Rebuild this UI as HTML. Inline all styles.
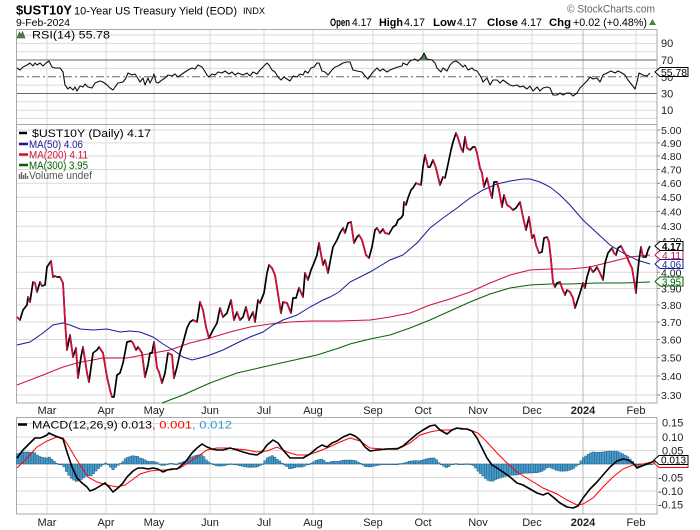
<!DOCTYPE html>
<html><head><meta charset="utf-8">
<style>
html,body{margin:0;padding:0;background:#fff;}
svg{display:block;}
text{font-family:"Liberation Sans",Arial,sans-serif;}
</style></head><body>
<svg id="c" width="700" height="530" viewBox="0 0 700 530" xmlns="http://www.w3.org/2000/svg">
<rect width="700" height="530" fill="#fff"/>

<!-- HEADER -->
<text x="16" y="14.5" font-size="13" font-weight="bold" textLength="56" lengthAdjust="spacingAndGlyphs">$UST10Y</text>
<text x="74" y="14.5" font-size="11" textLength="163" lengthAdjust="spacingAndGlyphs">10-Year US Treasury Yield (EOD)</text>
<text x="243" y="14" font-size="9" textLength="22" lengthAdjust="spacingAndGlyphs">INDX</text>
<text x="16" y="26" font-size="10.5" textLength="54" lengthAdjust="spacingAndGlyphs">9-Feb-2024</text>
<text x="567" y="12.5" font-size="11" fill="#666" textLength="88" lengthAdjust="spacingAndGlyphs">© StockCharts.com</text>
<g font-size="11">
<text x="330" y="26" font-weight="bold" textLength="20" lengthAdjust="spacingAndGlyphs">Open</text>
<text x="352" y="26" textLength="20" lengthAdjust="spacingAndGlyphs">4.17</text>
<text x="379" y="26" font-weight="bold" textLength="24" lengthAdjust="spacingAndGlyphs">High</text>
<text x="404" y="26" textLength="21" lengthAdjust="spacingAndGlyphs">4.17</text>
<text x="433" y="26" font-weight="bold" textLength="23" lengthAdjust="spacingAndGlyphs">Low</text>
<text x="457" y="26" textLength="20" lengthAdjust="spacingAndGlyphs">4.17</text>
<text x="487" y="26" font-weight="bold" textLength="31" lengthAdjust="spacingAndGlyphs">Close</text>
<text x="521" y="26" textLength="21" lengthAdjust="spacingAndGlyphs">4.17</text>
<text x="549" y="26" font-weight="bold" textLength="22" lengthAdjust="spacingAndGlyphs">Chg</text>
<text x="573" y="26" textLength="74" lengthAdjust="spacingAndGlyphs">+0.02 (+0.48%)</text>
</g>
<polygon points="649,25 656,25 652.5,19" fill="#3a8a3a"/>

<!-- GRIDS -->
<g stroke="#dadada" stroke-width="1" fill="none">
<!-- RSI horizontal -->
<path d="M16,35H657M16,43.4H657M16,51.7H657M16,68.4H657M16,85.1H657M16,101.8H657M16,110.2H657M16,118.5H657"/>
<!-- Main horizontal -->
<path d="M16,130H657M16,142.9H657M16,156H657M16,169.5H657M16,183.2H657M16,197.2H657M16,211.5H657M16,226.2H657M16,241.2H657M16,256.6H657M16,272.3H657M16,288.5H657M16,305H657M16,322H657M16,339.5H657M16,357.5H657M16,376H657M16,395H657"/>
<!-- MACD horizontal -->
<path d="M16,423.5H657M16,437H657M16,450.5H657M16,464H657M16,477.5H657M16,491H657M16,504.5H657"/>
<!-- vertical -->
<path d="M47,29V403M106,29V403M154,29V403M210,29V403M264,29V403M313,29V403M373,29V403M423,29V403M478,29V403M532,29V403M636,29V403"/>
<path d="M47,417V514M106,417V514M154,417V514M210,417V514M264,417V514M313,417V514M373,417V514M423,417V514M478,417V514M532,417V514M636,417V514"/>
</g>
<path d="M583,29V403M583,417V514" stroke="#b8b8b8" stroke-width="1"/>

<!-- RSI reference lines -->
<path d="M16,60H657M16,93.5H657" stroke="#666" stroke-width="1"/>
<path d="M16,76.75H657" stroke="#666" stroke-width="1" stroke-dasharray="8,3,2,3"/>

<!-- PANEL BORDERS -->
<g fill="none" stroke="#a8a8a8" stroke-width="1">
<rect x="16.5" y="29.5" width="640.5" height="95"/>
<rect x="16.5" y="124.5" width="640.5" height="278.5"/>
<rect x="16.5" y="417.5" width="640.5" height="96.5"/>
</g>

<!-- RSI overbought fill -->
<defs>
<clipPath id="ob"><rect x="16" y="29" width="641" height="31"/></clipPath>
</defs>
<polygon id="rsifill" clip-path="url(#ob)" fill="#4f7f4f" points=""/>

<!-- RSI line -->
<polyline id="rsi" fill="none" stroke="#111" stroke-width="1.1" stroke-linejoin="round" points="17,68 20,70 23,67 27,65 30,63 33,66 35,63 37,65 40,63 43,66 46,63 49,61 52,67 55,68 60,68 63,72 65,85 68,89 70,87 73,90 75,87 77,91 80,86 83,87 85,84 88,87 92,88 95,83 100,81 103,82 107,85 110,88 113,90 115,87 118,83 123,82 126,78 128,73 132,75 135,74 137,77 140,82 143,78 145,85 148,78 150,83 153,77 154,74 156,82 158,83 162,80 165,78 168,75 172,76 175,74 178,77 182,74 185,72 188,70 192,68 195,69 198,65 202,67 204,70 207,75 209,77 212,74 215,75 218,72 222,73 225,71 229,74 232,72 235,75 238,73 243,75 247,73 250,76 253,72 257,74 260,70 263,67 267,63 269,65 272,70 275,72 278,77 281,80 284,77 287,79 290,81 293,76 297,77 300,74 303,75 305,71 308,73 311,68 314,67 317,63 319,63 322,71 325,72 328,75 332,70 335,67 338,66 343,63 347,62 350,62 353,70 357,71 362,72 365,76 368,79 373,72 377,68 380,71 383,69 387,72 390,70 395,68 398,67 402,66 403,63 407,65 410,61 415,59 418,61 422,57 424,53 427,59 432,60 435,63 437,68 441,72 443,68 447,71 450,65 453,62 456,61 459,63 463,67 465,65 468,70 472,68 474,70 477,71 481,77 483,82 487,78 490,85 493,80 497,80 500,83 503,80 507,83 510,85 513,86 517,85 520,87 523,86 527,89 530,86 533,91 537,87 540,91 543,88 547,87 550,88 553,95 557,95 560,93 563,95 567,93 570,93 573,96 577,93 580,88 583,85 587,81 590,77 593,79 597,78 600,82 603,75 607,73 611,71 615,73 618,71 622,73 625,75 628,80 632,85 635,89 637,82 639,73 643,75 647,76 650,73"/>

<!-- RSI legend -->
<polygon points="17,38 19.5,32 21,35 22.5,31.5 25,38" fill="#4f7f4f" stroke="#2d552d" stroke-width="0.6"/>
<text x="32" y="38.5" font-size="11" textLength="78" lengthAdjust="spacingAndGlyphs">RSI(14) 55.78</text>

<!-- RSI axis labels -->
<g font-size="11" fill="#222">
<text x="661" y="47">90</text>
<text x="661" y="64">70</text>
<text x="661" y="81">50</text>
<text x="661" y="97.5">30</text>
<text x="661" y="114">10</text>
</g>
<polygon points="655,72 660,67.5 688,67.5 688,76.5 660,76.5" fill="#fff" stroke="#000" stroke-width="1"/>
<text x="661" y="75.8" font-size="10.5" textLength="26" lengthAdjust="spacingAndGlyphs">55.78</text>

<!-- MAIN: moving averages -->
<polyline fill="none" stroke="#006400" stroke-width="1" points="162,403 183,395 210,383 237,373 263,367 290,361 317,355 339,348 350,344 370,339 390,335 410,328 430,320 450,311 470,302 490,294 510,288 530,285 550,284 570,284 597,283 623,283 650,282"/>
<polyline fill="none" stroke="#d0103a" stroke-width="1" points="17,385 43,375 63,367 77,363 103,358 127,358 153,353 170,350 190,343 210,338 230,332 250,327 270,324 290,322 310,321 339,321 370,320 390,317 410,313 430,305 450,299 470,292 490,283 510,275 530,270 550,269 570,269 590,267 610,262 630,257 650,255"/>
<polyline fill="none" stroke="#1a1a9a" stroke-width="1" points="17,345 30,342 43,333 53,325 63,323 70,325 80,329 93,330 107,329 120,332 130,331 140,332 153,337 163,344 173,350 183,357 192,360 200,358 210,355 223,350 237,343 250,337 263,332 273,325 283,320 297,315 310,307 323,300 330,297 339,292 350,282 370,272 390,260 403,255 417,243 430,228 443,218 457,208 470,198 483,190 497,184 510,181 523,179 530,179 540,182 550,187 560,195 570,205 583,220 597,233 610,245 623,253 637,260 650,264"/>

<!-- MAIN: price -->
<polyline id="price" fill="none" stroke="#000" stroke-width="1.7" stroke-linejoin="round" points="17,317 20,320 23,310 27,305 28,297 30,302 33,282 35,283 37,292 40,282 42,286 45,285 47,267 51,261 53,277 55,276 57,277 60,277 63,283 65,320 67,350 70,335 73,357 76,348 78,378 81,357 83,347 87,373 89,382 93,353 97,350 99,347 103,353 107,377 110,390 112,397 114,397 117,375 120,373 123,363 127,342 131,341 133,343 136,350 138,347 142,353 145,377 148,365 150,353 152,353 154,342 157,368 159,372 162,383 165,373 168,353 172,355 174,378 177,367 180,353 183,343 187,328 190,322 193,320 197,322 200,302 203,310 206,327 209,338 213,330 217,323 220,308 223,317 227,313 231,300 234,320 237,312 240,320 243,317 246,307 249,320 253,312 255,322 258,300 260,303 264,293 267,273 269,265 272,268 275,275 281,313 283,302 287,303 291,313 293,298 296,298 299,288 303,297 305,273 308,280 311,270 314,263 317,255 319,243 323,265 325,260 328,273 331,257 333,247 337,240 340,233 343,228 345,233 348,223 351,222 354,243 357,237 359,235 362,240 366,255 369,258 372,247 375,230 377,228 380,233 383,229 385,233 389,234 393,227 396,225 398,220 401,218 403,215 404,202 406,205 408,198 411,190 413,188 416,183 418,184 421,185 423,167 425,155 428,167 430,167 433,160 436,168 440,185 443,177 445,178 447,169 451,150 453,142 456,133 458,138 461,148 463,152 465,137 467,148 470,150 473,147 475,147 477,153 480,168 482,173 484,187 487,178 489,187 492,198 494,182 497,182 499,190 502,207 504,195 507,205 510,207 513,210 516,208 520,202 523,217 526,230 529,217 532,238 534,235 536,245 539,253 542,252 544,238 547,237 549,242 551,260 553,282 555,287 557,283 560,282 562,288 565,295 567,290 570,292 573,298 575,308 577,302 580,293 583,283 585,288 587,277 590,267 593,272 595,270 597,267 600,273 603,280 605,263 608,253 612,248 614,253 616,255 618,248 621,246 623,250 627,257 629,262 632,268 634,280 636,293 637,280 639,260 641,247 643,257 646,257 648,250 650,246"/>
<g id="pricered"></g>

<!-- MAIN legend -->
<path d="M19,133H27" stroke="#000" stroke-width="2.5"/>
<text x="32" y="137" font-size="11" textLength="119" lengthAdjust="spacingAndGlyphs">$UST10Y (Daily) 4.17</text>
<path d="M19,144H28" stroke="#1a1a9a" stroke-width="2.5"/>
<text x="29" y="148" font-size="11" fill="#1a1a9a" textLength="54" lengthAdjust="spacingAndGlyphs">MA(50) 4.06</text>
<path d="M19,154.5H28" stroke="#d0103a" stroke-width="2.5"/>
<text x="29" y="158.5" font-size="11" fill="#d0103a" textLength="59" lengthAdjust="spacingAndGlyphs">MA(200) 4.11</text>
<path d="M19,165H28" stroke="#006400" stroke-width="2.5"/>
<text x="29" y="169" font-size="11" fill="#006400" textLength="59" lengthAdjust="spacingAndGlyphs">MA(300) 3.95</text>
<path d="M19.5,179V174M21.5,179V172M23.5,179V175M25.5,179V173M27.5,179V176" stroke="#666" stroke-width="1.4"/>
<text x="29" y="179" font-size="11" fill="#555" textLength="63" lengthAdjust="spacingAndGlyphs">Volume undef</text>

<!-- MAIN axis ticks and labels -->
<g stroke="#888" stroke-width="1">
<path d="M657,130h3M657,142.9h3M657,156h3M657,169.5h3M657,183.2h3M657,197.2h3M657,211.5h3M657,226.2h3M657,241.2h3M657,256.6h3M657,272.3h3M657,288.5h3M657,305h3M657,322h3M657,339.5h3M657,357.5h3M657,376h3M657,395h3"/>
</g>
<g font-size="10.5" fill="#222">
<text x="661" y="134">5.00</text>
<text x="661" y="146.9">4.90</text>
<text x="661" y="160">4.80</text>
<text x="661" y="173.5">4.70</text>
<text x="661" y="187.2">4.60</text>
<text x="661" y="201.2">4.50</text>
<text x="661" y="215.5">4.40</text>
<text x="661" y="230.2">4.30</text>
<text x="661" y="245.2">4.20</text>
<text x="661" y="260.6">4.10</text>
<text x="661" y="276.3">4.00</text>
<text x="661" y="292.5">3.90</text>
<text x="661" y="309">3.80</text>
<text x="661" y="326">3.70</text>
<text x="661" y="343.5">3.60</text>
<text x="661" y="361.5">3.50</text>
<text x="661" y="380">3.40</text>
<text x="661" y="399">3.30</text>
</g>
<!-- value tags -->
<polygon points="655,281.5 660,277 683,277 683,286 660,286" fill="#fff" stroke="#006400" stroke-width="1"/>
<text x="662" y="285.3" font-size="10.5" fill="#006400" textLength="19" lengthAdjust="spacingAndGlyphs">3.95</text>
<polygon points="655,255 660,250.5 683,250.5 683,259.5 660,259.5" fill="#fff" stroke="#d0103a" stroke-width="1"/>
<text x="662" y="258.8" font-size="10.5" fill="#d0103a" textLength="19" lengthAdjust="spacingAndGlyphs">4.11</text>
<polygon points="655,264 660,259.5 683,259.5 683,268.5 660,268.5" fill="#fff" stroke="#1a1a9a" stroke-width="1"/>
<text x="662" y="267.8" font-size="10.5" fill="#1a1a9a" textLength="19" lengthAdjust="spacingAndGlyphs">4.06</text>
<polygon points="655,246 660,241.5 683,241.5 683,250.5 660,250.5" fill="#fff" stroke="#000" stroke-width="1"/>
<text x="662" y="249.8" font-size="10.5" font-weight="bold" textLength="19" lengthAdjust="spacingAndGlyphs">4.17</text>

<!-- X axis labels main -->
<g font-size="11" fill="#222" text-anchor="middle">
<text x="47" y="414">Mar</text><text x="106" y="414">Apr</text><text x="154" y="414">May</text><text x="210" y="414">Jun</text><text x="264" y="414">Jul</text><text x="313" y="414">Aug</text><text x="373" y="414">Sep</text><text x="423" y="414">Oct</text><text x="478" y="414">Nov</text><text x="532" y="414">Dec</text><text x="583" y="414" font-weight="bold">2024</text><text x="636" y="414">Feb</text>
<text x="47" y="526">Mar</text><text x="106" y="526">Apr</text><text x="154" y="526">May</text><text x="210" y="526">Jun</text><text x="264" y="526">Jul</text><text x="313" y="526">Aug</text><text x="373" y="526">Sep</text><text x="423" y="526">Oct</text><text x="478" y="526">Nov</text><text x="532" y="526">Dec</text><text x="583" y="526" font-weight="bold">2024</text><text x="636" y="526">Feb</text>
</g>

<!-- MACD -->
<g id="hist"></g>
<polyline id="sig" fill="none" stroke="#ff0000" stroke-width="1" points="17,468 27,458 37,447 47,441 57,437 63,438 68,445 75,457 82,468 88,477 97,482 107,485 117,487 125,485 132,480 140,474 150,471 160,470 170,470 180,468 188,463 197,457 207,450 217,448 227,448 237,449 247,450 257,452 267,451 277,447 287,452 297,455 307,455 317,452 327,448 340,442 350,438 360,441 370,448 383,449 400,448 410,443 420,435 430,432 440,430 450,430 460,428 470,430 478,433 487,442 497,453 507,463 517,472 530,480 543,488 557,494 567,500 577,505 583,504 593,498 603,487 613,477 623,469 633,465 643,464 652,462 657,465"/>
<polyline id="macd" fill="none" stroke="#000" stroke-width="1.6" stroke-linejoin="round" points="17,458 23,450 30,443 35,438 40,438 43,437 47,435 49,433 53,435 58,437 63,439 67,452 72,467 77,478 82,483 87,487 90,491 95,489 100,486 105,483 109,487 113,492 118,488 123,483 127,477 133,471 138,468 143,468 148,469 153,468 158,469 163,472 167,470 172,469 177,469 182,465 187,460 192,453 197,448 202,444 207,447 212,449 217,450 223,450 230,448 237,450 243,452 250,454 257,455 262,452 267,445 273,440 278,443 283,450 290,458 297,458 303,458 310,454 317,448 322,445 327,447 332,443 337,441 343,437 350,434 355,436 360,440 365,447 370,451 377,450 387,449 397,449 403,446 410,440 417,434 423,430 430,426 435,425 440,430 447,434 452,430 457,428 462,429 467,429 472,431 477,438 482,448 487,458 492,465 497,468 503,472 510,477 517,483 523,485 530,489 537,493 543,495 548,493 553,497 560,503 567,507 573,508 578,506 583,498 590,489 597,482 603,475 610,467 617,461 623,459 628,460 633,463 637,468 642,466 647,464 652,462 655,460"/>

<!-- MACD legend -->
<path d="M18,424.5H27" stroke="#000" stroke-width="2.5"/>
<text x="32" y="428.5" font-size="11" textLength="120" lengthAdjust="spacingAndGlyphs">MACD(12,26,9) 0.013</text>
<text x="152" y="428.5" font-size="11" fill="#ff0000" textLength="40" lengthAdjust="spacingAndGlyphs">, 0.001</text>
<text x="192" y="428.5" font-size="11" fill="#3399cc" textLength="40" lengthAdjust="spacingAndGlyphs">, 0.012</text>

<!-- MACD axis -->
<g font-size="11" fill="#222">
<text x="662" y="426.5">0.15</text>
<text x="662" y="441">0.10</text>
<text x="662" y="454.5">0.05</text>
<text x="658" y="481.5">-0.05</text>
<text x="658" y="495">-0.10</text>
<text x="658" y="508.5">-0.15</text>
</g>
<polygon points="654,463 659,458.5 688,458.5 688,467.5 659,467.5" fill="#fff" stroke="#ff0000" stroke-width="1"/>
<polygon points="654,460 659,455.5 688,455.5 688,464.5 659,464.5" fill="#fff" stroke="#000" stroke-width="1"/>
<text x="661" y="463.5" font-size="10.5" textLength="25" lengthAdjust="spacingAndGlyphs">0.013</text>
</svg>
<script>
(function(){
  var NS="http://www.w3.org/2000/svg";
  function parse(id){
    return document.getElementById(id).getAttribute("points").trim().split(/\s+/).map(function(s){var a=s.split(",");return [+a[0],+a[1]];});
  }
  // price down segments in red
  var p=parse("price"), g=document.getElementById("pricered");
  var run=null;
  function flush(){
    if(run&&run.length>1){
      var pl=document.createElementNS(NS,"polyline");
      pl.setAttribute("points",run.map(function(q){return q.join(",");}).join(" "));
      pl.setAttribute("fill","none");pl.setAttribute("stroke","#d0103a");
      pl.setAttribute("stroke-width","1.7");pl.setAttribute("stroke-linejoin","round");
      g.appendChild(pl);
    }
    run=null;
  }
  for(var i=0;i<p.length-1;i++){
    if(p[i+1][1]>p[i][1]){ if(!run) run=[p[i]]; run.push(p[i+1]); }
    else flush();
  }
  flush();
  // RSI fill above 70
  var r=parse("rsi");
  var pts=[[r[0][0],60]].concat(r).concat([[r[r.length-1][0],60]]);
  document.getElementById("rsifill").setAttribute("points",pts.map(function(q){return q.join(",");}).join(" "));
  // histogram
  var m=parse("macd"), s=parse("sig"), h=document.getElementById("hist");
  function interp(arr,x){
    if(x<=arr[0][0]) return arr[0][1];
    for(var k=0;k<arr.length-1;k++){
      if(x>=arr[k][0]&&x<=arr[k+1][0]){
        var t=(x-arr[k][0])/(arr[k+1][0]-arr[k][0]);
        return arr[k][1]+t*(arr[k+1][1]-arr[k][1]);
      }
    }
    return arr[arr.length-1][1];
  }
  for(var x=17.5;x<=653;x+=2.45){
    var d=interp(m,x)-interp(s,x);
    var y0=464, y1=464+d;
    var top=Math.min(y0,y1), ht=Math.max(Math.abs(d),0.6);
    var rc=document.createElementNS(NS,"rect");
    rc.setAttribute("x",(x-1.2).toFixed(2));
    rc.setAttribute("y",(d<0?top:464).toFixed(2));
    rc.setAttribute("width","2.4");
    rc.setAttribute("height",ht.toFixed(2));
    rc.setAttribute("fill","#4a9ccc");
    rc.setAttribute("stroke","#1f5f85");
    rc.setAttribute("stroke-width","0.5");
    h.appendChild(rc);
  }
})();
</script>
</body></html>
